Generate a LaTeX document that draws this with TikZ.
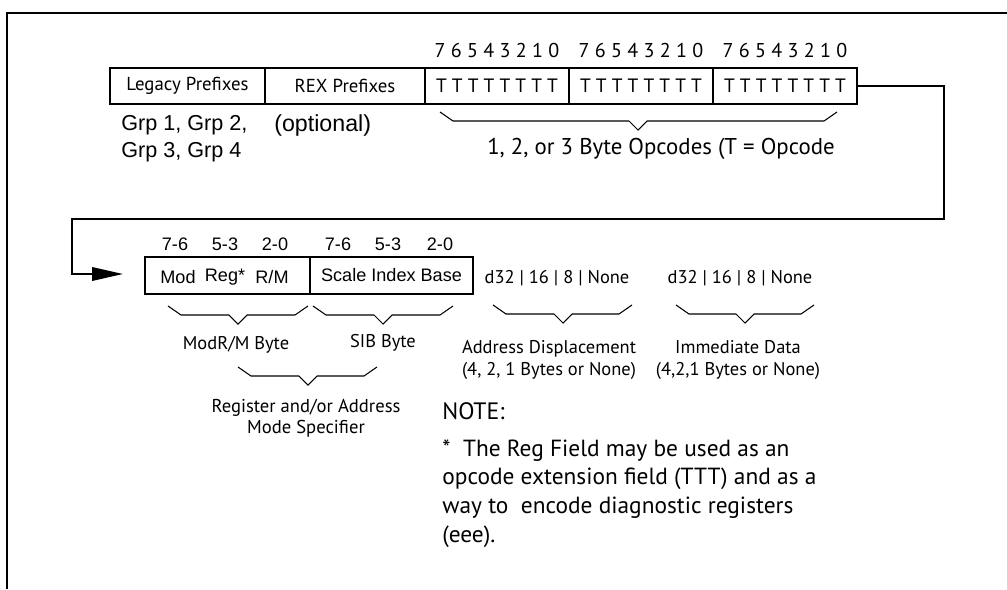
\documentclass[tikz,border=0pt]{standalone}
\usepackage{fontspec}
\setmainfont{PT Sans}
\newfontfamily\arialfont{Liberation Sans}
\usetikzlibrary{arrows.meta}

% Brace under a group of fields: left x, right x, tip x, top y
\newcommand{\bytebrace}[4]{%
    \draw[brc] (#1,#4) -- (#1+13,#4+9) -- (#3-9,#4+9) -- (#3,#4+18)
        -- (#3+9,#4+9) -- (#2-13,#4+9) -- (#2,#4);}

\begin{document}
\begin{tikzpicture}[x=0.02cm, y=-0.02cm]

    % Text styles
    \tikzset{clr/.style={inner sep=0pt, font=\fontsize{10.5}{12.4}\selectfont}}
    \tikzset{big/.style={inner sep=0pt, align=center, font=\fontsize{13}{15}\selectfont}}
    \tikzset{ari/.style={inner sep=0pt, font=\arialfont\fontsize{10.3}{12}\selectfont}}
    \tikzset{grp/.style={inner sep=0pt, anchor=west, font=\arialfont\fontsize{12.3}{14}\selectfont}}

    % Fields and lines
    \tikzset{fld/.style={draw, line width=1.1pt, rectangle, inner sep=0pt, minimum height=0.73cm, font=\fontsize{10.7}{12}\selectfont}}
    \tikzset{tt/.style={font=\fontsize{11}{13}\selectfont}}
    \tikzset{brc/.style={draw, line width=0.6pt}}
    \tikzset{lnk/.style={draw, line width=1.1pt}}

    \useasboundingbox (0,0) rectangle (1007,589);

    % Frame
    \draw[lnk] (7,589) -- (7,13) -- (1007,13);

    % Prefixes and opcode bytes
    \node (leg) [fld, minimum width=3.1cm] at (187.5,86) {Legacy Prefixes};
    \node (rex) [fld, minimum width=3.2cm] at (345,86) {REX Prefixes};
    \foreach \x [count=\i] in {497,641,785} {
        \node (op\i) [fld, tt, minimum width=2.88cm] at (\x,86) {T T T T T T T T};
        \node (bits\i) [clr, font=\fontsize{11.4}{13}\selectfont] at (\x,50) {7 6 5 4 3 2 1 0};
    }
    \node (grpa) [grp] at (121,125) {Grp 1, Grp 2,};
    \node (grpb) [grp] at (121,152) {Grp 3, Grp 4};
    \node (opt) [grp, font=\arialfont\fontsize{13.2}{15}\selectfont] at (274,125) {(optional)};
    \bytebrace{440}{837}{638}{112}
    \node (opc) [big] at (661,149) {1, 2, or 3 Byte Opcodes (T = Opcode};

    % ModR/M and SIB bytes
    \node (modrm) [fld, minimum width=3.3cm] at (227.5,275.5) {};
    \node (sib) [fld, minimum width=3.26cm, ari] at (391.5,275.5) {Scale Index Base};
    \node (mod) [ari] at (178,277) {Mod};
    \node (reg) [ari] at (225,277) {Reg*};
    \node (rm) [ari] at (272,277) {R/M};
    \foreach \x/\t in {175/7-6, 225/5-3, 275/2-0, 338/7-6, 388/5-3, 440/2-0}
        \node (b\x) [ari] at (\x,244) {\t};

    % Displacement and immediate
    \node (disp) [clr] at (557,278) {d32 | 16 | 8 | None};
    \node (imm) [clr] at (740,278) {d32 | 16 | 8 | None};

    % Braces and their labels
    \bytebrace{168}{308}{238}{306}
    \bytebrace{313}{453}{383}{306}
    \bytebrace{493}{632}{563}{305}
    \bytebrace{676}{814}{745}{305}
    \bytebrace{238}{377}{308}{367}
    \node (mlbl) [clr] at (236,345) {ModR/M Byte};
    \node (slbl) [clr] at (383,343) {SIB Byte};
    \node (dlbl) [clr, align=center] at (549,360) {Address Displacement\\(4, 2, 1 Bytes or None)};
    \node (ilbl) [clr, align=center] at (738,360) {Immediate Data\\(4,2,1 Bytes or None)};
    \node (rlbl) [clr, align=center, font=\fontsize{10.6}{12.2}\selectfont] at (306,418) {Register and/or Address\\Mode Specifier};

    % Note
    \node (note) [inner sep=0pt, anchor=west, font=\fontsize{13.5}{16}\selectfont] at (442,411) {NOTE:};
    \node (ntxt) [inner sep=0pt, anchor=north west, align=left, font=\fontsize{13.3}{16.4}\selectfont] at (442,439)
        {*\ \ The Reg Field may be used as an\\opcode extension field (TTT) and as a\\way to\ \ encode diagnostic registers\\(eee).};

    % Link from opcode to ModR/M
    \coordinate (c1) at (944,219);
    \coordinate (c2) at (72,219);
    \coordinate (in) at (123,274);
    \draw[lnk, -{Triangle[length=0.62cm, width=0.27cm]}] (op3.east) -| (c1) -- (c2) |- (in);

\end{tikzpicture}
\end{document}
